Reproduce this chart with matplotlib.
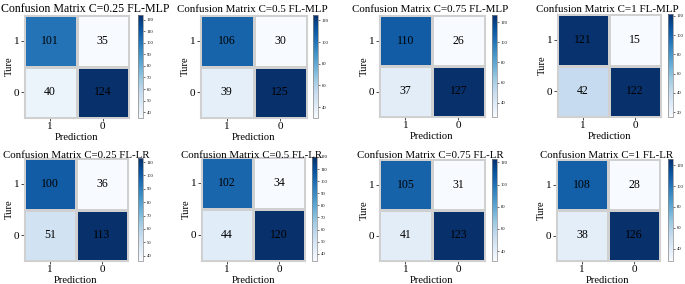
import numpy as np
import matplotlib.pyplot as plt
from matplotlib.ticker import MultipleLocator

plt.rcParams['font.family'] = ['Liberation Serif', 'DejaVu Serif']

titles = ['Confusion Matrix C=0.25 FL-MLP', 'Confusion Matrix C=0.5 FL-MLP',
          'Confusion Matrix C=0.75 FL-MLP', 'Confusion Matrix C=1 FL-MLP',
          'Confusion Matrix C=0.25 FL-LR', 'Confusion Matrix C=0.5 FL-LR',
          'Confusion Matrix C=0.75 FL-LR', 'Confusion Matrix C=1 FL-LR']
matrices = [
    [[101, 35], [40, 124]],
    [[106, 30], [39, 125]],
    [[110, 26], [37, 127]],
    [[121, 15], [42, 122]],
    [[100, 36], [51, 113]],
    [[102, 34], [44, 120]],
    [[105, 31], [41, 123]],
    [[108, 28], [38, 126]],
]
class_labels = ['1', '0']
cbar_steps = [10, 20, 20, 20, 10, 10, 20, 20]

W, H = 685, 284
# pixel boxes: heatmap (x0, x1, y0, y1), colorbar (x0, x1)
heat_boxes = [(24, 129, 15, 118), (200, 307, 15, 118), (379, 485, 15, 117), (557, 661, 14, 117),
              (24, 128, 158, 261), (201, 305, 157, 261), (379, 485, 159, 261), (556, 660, 159, 261)]
cbar_boxes = [(138, 143), (313, 318), (492, 497), (668, 673),
              (138, 143), (312, 317), (492, 497), (668, 673)]
# title centre (x, y) in pixels and size; the panels were pasted at slightly different scales
title_pos = [(85, 9), (252, 9), (430, 9), (607, 9),
             (76, 155), (252, 155), (430, 155), (607, 155)]
title_size = [8.6, 7.9, 7.95, 7.9, 7.8, 7.85, 7.85, 7.8]

fig = plt.figure(figsize=(W / 100, H / 100), dpi=100)

for i in range(8):
    x0, x1, y0, y1 = heat_boxes[i]
    ax = fig.add_axes([x0 / W, 1 - y1 / H, (x1 - x0) / W, (y1 - y0) / H])
    cx0, cx1 = cbar_boxes[i]
    cax = fig.add_axes([cx0 / W, 1 - y1 / H, (cx1 - cx0) / W, (y1 - y0) / H])
    m = np.array(matrices[i])
    mesh = ax.pcolormesh(m, cmap='Blues', vmin=m.min(), vmax=m.max(),
                         edgecolors='#d0d0d0', linewidth=0.8)
    ax.set_xlim(0, 2)
    ax.set_ylim(2, 0)
    for r in range(2):
        for c in range(2):
            ax.text(c + 0.5, r + 0.5, str(m[r, c]), ha='center', va='center',
                    fontsize=8.5, color='black')
    ax.set_xticks([0.5, 1.5])
    ax.set_xticklabels(class_labels, fontsize=8)
    ax.set_yticks([0.5, 1.5])
    ax.set_yticklabels(class_labels, fontsize=8)
    ax.tick_params(length=2.2, width=0.5, pad=1)
    for s in ax.spines.values():
        s.set_color('#d0d0d0')
        s.set_linewidth(0.8)
    ax.set_xlabel('Prediction', fontsize=7.6, labelpad=1)
    ax.set_ylabel('Ture', fontsize=7.6, labelpad=0)
    tx, ty = title_pos[i]
    fig.text(tx / W, 1 - ty / H, titles[i], fontsize=title_size[i], ha='center', va='center')
    cb = fig.colorbar(mesh, cax=cax)
    cb.locator = MultipleLocator(cbar_steps[i])
    cb.update_ticks()
    cb.ax.tick_params(labelsize=3.3, length=1.5, width=0.4, pad=1)
    cb.outline.set_linewidth(0.5)
    cb.outline.set_edgecolor('#888888')

fig.savefig('out.png', dpi=100)
